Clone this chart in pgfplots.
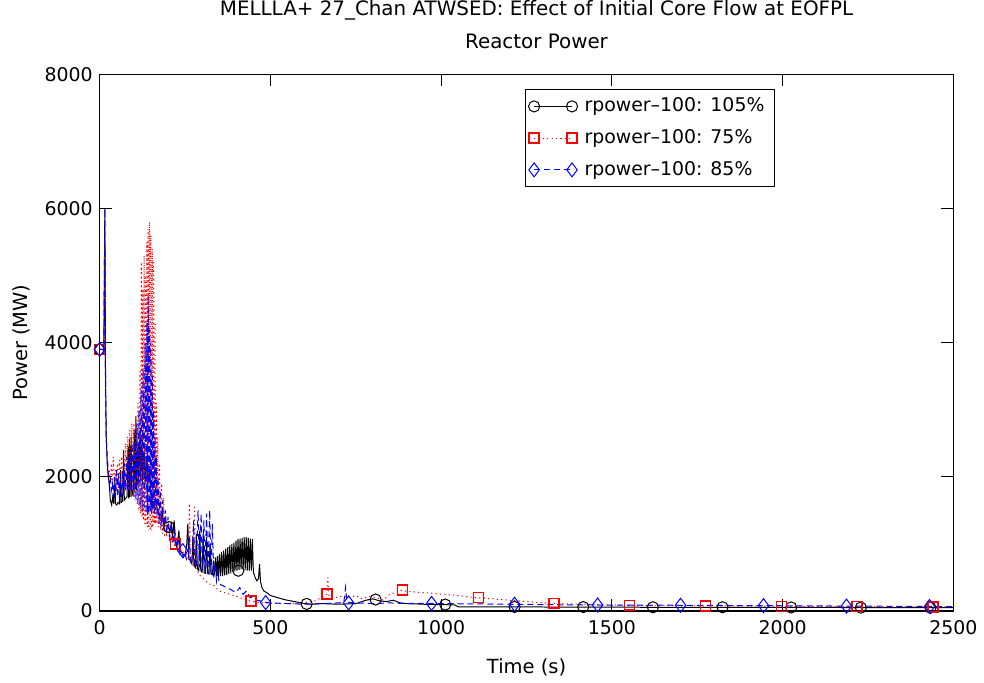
\documentclass[border=0pt]{standalone}
\usepackage{pgfplots}
\pgfplotsset{compat=1.18}
\usepackage{fontspec}
\setmainfont{DejaVu Sans}
\begin{document}
\begin{tikzpicture}
\begin{axis}[
  scale only axis,
  width=428bp, height=269bp,
  xmin=0, xmax=2500, ymin=0, ymax=8000,
  xtick={0,500,1000,1500,2000,2500},
  ytick={0,2000,4000,6000,8000},
  scaled ticks=false,
  /pgf/number format/1000 sep={},
  /pgf/number format/assume math mode=true,
  tick align=inside,
  major tick length=6bp,
  tick style={black, line width=0.5bp},
  axis line style={line width=0.6bp},
  ticklabel style={font=\fontsize{9.5}{11}\selectfont},
  xticklabel style={yshift=-1.5bp},
  label style={font=\fontsize{9.8}{11}\selectfont},
  xlabel={Time (s)},
  ylabel={Power (MW)},
  xlabel style={at={(axis description cs:0.5,0)}, anchor=base, yshift=-31.5bp},
  ylabel style={at={(axis description cs:0,0.5)}, anchor=base, yshift=36bp},
  title={MELLLA+ 27\_Chan ATWSED: Effect of Initial Core Flow at EOFPL\\Reactor Power},
  title style={font=\fontsize{10}{17}\selectfont, align=center, inner sep=0pt, at={(axis description cs:0.5,1)}, anchor=south, yshift=6.5bp, xshift=5bp},
  legend image code/.code={\draw[mark repeat=2,mark phase=1] plot coordinates {(0bp,0bp)(9.5bp,0bp)(19bp,0bp)};},
  legend style={at={(0.791,0.972)}, anchor=north east, font=\fontsize{9.5}{11}\selectfont, draw=black, line width=0.5bp, inner xsep=1.5bp, inner ysep=2bp, row sep=3.4bp, cells={anchor=west}, nodes={inner xsep=3.5bp}},
  legend cell align=left,
]
% ---------- 105% (black) ----------
\addplot[black, line width=0.5bp, forget plot] coordinates {
(0,3900)(8,3900)(12,3890)(15,6000)(17,3500)(19,2600)(22,2200)(25,2000)(28,1900)(31,1650)(35,1580)(38,1700)(41,1600)(44,1950)(46,1600)(50,1580)(54,1620)(58,1600)(61,2100)(63,1620)(67,1640)(70,2400)(72,1650)(76,1680)(80,1700)(83,2450)(85,1680)(87,2550)(89,1700)(92,2600)(94,1720)(98,1750)(101,2700)(103,1760)(106,2900)(108,1800)(112,2500)(114,1900)(118,2700)(120,2000)(124,2600)(126,1950)(130,2400)(133,1900)(137,2300)(140,1850)(145,2100)(150,1750)(155,1600)(160,1550)(165,1600)(170,1500)(175,1400)(180,1350)(183,1500)(186,1300)(190,1280)(195,1270)(200,1260)(205,1200)(210,1300)(213,1100)(218,1350)(221,1000)(226,950)(232,1200)(235,900)(240,870)(245,840)(250,820)(255,1000)(258,1300)(261,780)(266,750)(270,700)(273,1100)(276,680)(280,650)(283,1150)(286,630)(290,600)(293,1200)(296,600)(300,580)(303,1150)(306,570)(310,560)(313,1100)(316,560)(320,550)(323,1000)(326,550)(330,540)(333,750)(336,530)(339,800)(342,520)(345,820)(348,520)(351,850)(354,520)(357,880)(360,520)(363,900)(366,530)(369,930)(372,540)(375,950)(378,550)(381,980)(384,560)(387,1000)(390,580)(393,1020)(396,590)(399,1050)(402,600)(405,1070)(408,610)(411,1080)(414,620)(417,1090)(420,620)(423,1100)(426,610)(429,1100)(432,600)(435,1090)(438,600)(441,1080)(444,600)(447,1070)(450,580)(455,500)(460,450)(465,480)(468,700)(471,430)(475,350)(480,300)(490,270)(500,230)(520,200)(540,170)(560,150)(580,130)(600,110)(620,100)(650,110)(700,100)(750,110)(780,160)(800,180)(820,150)(840,140)(860,160)(880,120)(900,110)(950,100)(1000,95)(1040,90)(1050,60)(1200,60)(1400,58)(1600,55)(1800,55)(2000,52)(2100,55)(2200,50)(2500,48)
};
\addplot[black, only marks, mark=o, mark size=2.8bp, line width=0.5bp, forget plot] coordinates {
(0,3900)(203,1250)(406,600)(606,105)(808,170)(1012,95)(1215,60)(1416,58)(1620,55)(1824,55)(2025,52)(2229,50)(2433,48)
};
% ---------- 75% (red) ----------
\addplot[red, line width=0.5bp, dash pattern=on 0.6bp off 1.6bp, forget plot] coordinates {
(0,3900)(8,3900)(12,3880)(15,5500)(17,3200)(19,2500)(22,2200)(25,2000)(28,2100)(31,1900)(34,2200)(37,1800)(40,2300)(43,1850)(46,2100)(49,1800)(52,2200)(55,1750)(58,2250)(61,1800)(64,2300)(67,1850)(70,2400)(73,1800)(76,2500)(79,1850)(82,2600)(85,1800)(88,2700)(91,1750)(94,2800)(97,1700)(100,2800)(103,1650)(106,2900)(109,1600)(112,3100)(115,1500)(118,3600)(120,1450)(122,5200)(124,1400)(126,4800)(128,1350)(130,5300)(132,1300)(134,5000)(136,1300)(138,5500)(140,1250)(142,5700)(144,1200)(146,5800)(148,1200)(150,5600)(152,1200)(154,5400)(156,1250)(158,5200)(160,1300)(162,4300)(164,1300)(166,3100)(168,1300)(170,2600)(172,1250)(175,2200)(178,1200)(181,1900)(184,1150)(187,1700)(190,1100)(193,1500)(196,1100)(200,1350)(204,1050)(208,1300)(212,1000)(216,1200)(220,950)(225,1100)(230,900)(235,1000)(240,850)(245,900)(250,800)(255,850)(260,750)(263,1600)(266,700)(270,750)(275,700)(278,1550)(281,650)(286,600)(290,550)(300,500)(310,450)(320,400)(330,400)(340,350)(350,300)(360,280)(380,250)(400,220)(420,180)(440,150)(460,130)(480,120)(520,110)(560,110)(600,120)(630,150)(650,200)(660,230)(665,250)(668,500)(671,220)(690,200)(710,220)(730,200)(750,230)(770,180)(790,220)(810,200)(830,160)(850,250)(870,280)(885,310)(900,290)(930,280)(960,270)(1000,250)(1050,230)(1100,200)(1150,180)(1200,160)(1250,140)(1300,120)(1350,110)(1400,100)(1500,90)(1600,80)(1800,75)(2000,70)(2200,65)(2400,60)(2500,60)
};
\addplot[red, only marks, mark=square, mark size=2.5bp, line width=0.75bp, mark options={solid, draw=red}, forget plot] coordinates {
(0,3900)(222,1000)(443,150)(665,250)(887,310)(1109,200)(1330,115)(1552,85)(1774,75)(1996,70)(2218,65)(2440,60)
};
% ---------- 85% (blue) ----------
\addplot[blue, line width=0.5bp, dash pattern=on 3bp off 2bp, forget plot] coordinates {
(0,3900)(8,3900)(12,3880)(15,6000)(17,3400)(19,2600)(22,2300)(25,2100)(28,1900)(31,2000)(34,1800)(37,1900)(40,1700)(43,2000)(46,1700)(49,2100)(52,1700)(55,2050)(58,1650)(61,2000)(64,1700)(67,2100)(70,1750)(73,2200)(76,1800)(79,2300)(82,1800)(85,2300)(88,1800)(91,2400)(94,1750)(97,2500)(100,1700)(103,2600)(106,1650)(109,2800)(112,1600)(115,3000)(118,1550)(121,3300)(124,1500)(127,3600)(130,1500)(133,4000)(136,1450)(138,4300)(140,1450)(142,4700)(144,1450)(146,4200)(148,1500)(150,4000)(152,1450)(154,3500)(156,1500)(158,3000)(160,1450)(162,2600)(164,1500)(166,2300)(168,1400)(171,2000)(174,1300)(177,1800)(180,1250)(184,1650)(188,1200)(192,1500)(196,1150)(200,1400)(205,1100)(210,1300)(215,1000)(220,1200)(225,950)(230,1100)(235,850)(240,900)(245,800)(250,850)(255,750)(260,800)(263,1100)(266,700)(270,750)(275,1350)(278,700)(283,650)(288,1500)(292,650)(297,1450)(300,600)(305,1350)(308,600)(313,1450)(317,550)(322,1500)(326,550)(330,1300)(334,500)(338,700)(342,450)(346,600)(350,400)(360,380)(370,350)(380,330)(390,300)(400,280)(410,350)(420,250)(430,300)(440,200)(450,200)(460,160)(470,150)(480,130)(500,120)(550,110)(600,100)(650,110)(700,120)(715,130)(720,350)(724,130)(750,120)(800,110)(850,120)(900,110)(950,115)(1000,110)(1100,105)(1200,100)(1300,95)(1400,90)(1500,88)(1700,85)(1900,80)(2100,75)(2300,70)(2500,65)
};
\addplot[blue, only marks, mark=diamond, mark size=3.5bp, line width=0.5bp, mark options={solid, draw=blue}, forget plot] coordinates {
(0,3900)(243,900)(486,125)(729,120)(972,112)(1215,100)(1458,89)(1701,85)(1944,79)(2187,73)(2430,67)
};
% ---------- legend ----------
\addlegendimage{black, line width=0.5bp, mark=o, mark size=2.8bp}
\addlegendentry{rpower–100: 105\%}
\addlegendimage{red, line width=0.5bp, dash pattern=on 0.6bp off 1.6bp, mark=square, mark size=2.5bp, mark options={solid, draw=red, line width=0.75bp}}
\addlegendentry{rpower–100: 75\%}
\addlegendimage{blue, line width=0.5bp, dash pattern=on 3bp off 2bp, mark=diamond, mark size=3.5bp, mark options={solid, draw=blue}}
\addlegendentry{rpower–100: 85\%}
\end{axis}
\path ([xshift=-50bp,yshift=-35bp]current axis.south west) rectangle ([xshift=14bp,yshift=37bp]current axis.north east);
\end{tikzpicture}
\end{document}
